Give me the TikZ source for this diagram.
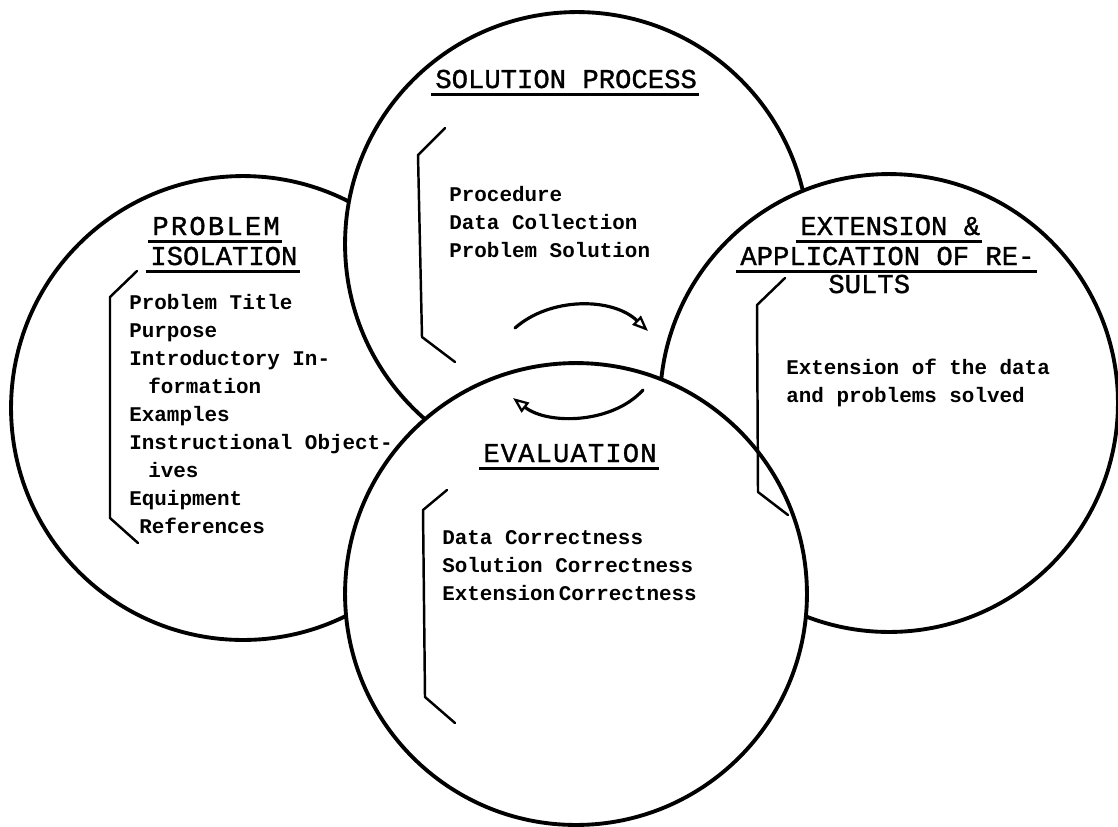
\documentclass[tikz,border=0pt]{standalone}
\usepackage{fontspec}
\setmonofont{Liberation Mono}
\usetikzlibrary{arrows.meta}
\tikzset{
  bigcirc/.style={circle, draw, fill=white, line width=2.2pt, inner sep=0pt, minimum size=#1},
  bracketline/.style={line width=1.4pt, line join=round, line cap=round},
  body/.style={font=\fontsize{11.9}{15.9}\selectfont\ttfamily\bfseries, align=left, anchor=base west, inner sep=0pt},
  head/.style={font=\fontsize{15.5}{18}\selectfont\ttfamily\addfontfeature{FakeBold=1.2}, anchor=base west, inner sep=0pt},
  uline/.style={line width=1.6pt},
  cyc/.style={line width=1.8pt, line cap=round, -{Triangle[open, length=9pt, width=7pt, line width=1.3pt]}},
}
\begin{document}
\begin{tikzpicture}[x=0.02cm, y=-0.02cm]
\useasboundingbox (0,0) rectangle (1118,826);
% circles, stacked bottom to top
\node[bigcirc=9.28cm] (iso) at (243,408) {};
\node[bigcirc=9.28cm] (sol) at (577,244) {};
\node[bigcirc=9.16cm] (ext) at (889,403) {};
\node[bigcirc=9.24cm] (eva) at (576,594) {};
% brackets
\draw[bracketline] (137,271) -- (110,297) -- (110,518) -- (138,543);
\draw[bracketline] (445,128) -- (418,155) -- (422,337) -- (455,362);
\draw[bracketline] (785,278) -- (757,305) -- (758,492) -- (788,515);
\draw[bracketline] (447,490) -- (423,510) -- (425,697) -- (455,723);
% cycle arrows
\coordinate (a1s) at (515,328);
\coordinate (a1e) at (648,331);
\coordinate (a2s) at (643,390);
\coordinate (a2e) at (513,398);
\draw[cyc] (a1s) .. controls (550,297) and (612,297) .. (a1e);
\draw[cyc] (a2s) .. controls (612,424) and (548,425) .. (a2e);
% headings
\node[head] (h1) at (435,88) {SOLUTION PROCESS};
\node[head, font=\fontsize{15.5}{18}\selectfont\ttfamily\addfontfeature{FakeBold=1.2,LetterSpace=8}] (h2a) at (152,235) {PROBLEM};
\node[head] (h2b) at (150,265) {ISOLATION};
\node[head] (h3a) at (800,235) {EXTENSION \&};
\node[head] (h3b) at (740,265) {APPLICATION OF RE-};
\node[head] (h3c) at (828,293) {SULTS};
\node[head, font=\fontsize{15.5}{18}\selectfont\ttfamily\addfontfeature{FakeBold=1.2,LetterSpace=4}] (h4) at (483,462) {EVALUATION};
% underlines
\foreach \h in {h1,h2a,h2b,h3a,h3b,h4}{
  \draw[uline] ([xshift=-2pt,yshift=-3.5pt]\h.base west) -- ([xshift=1pt,yshift=-3.5pt]\h.base east);
}
% body texts (anchor = baseline of last line)
\node[body] (isotxt) at (129,533) {Problem Title\\Purpose\\Introductory In-\\\hspace*{10.8pt}formation\\Examples\\Instructional Object-\\\hspace*{10.8pt}ives\\Equipment\\\hspace*{5.7pt}References};
\node[body] (soltxt) at (449,257) {Procedure\\Data Collection\\Problem Solution};
\node[body] (exttxt) at (786,402) {Extension of the data\\and problems solved};
\node[body] (evatxt) at (442,600) {Data Correctness\\Solution Correctness\\Extension\hspace{2pt}Correctness};
\end{tikzpicture}
\end{document}
